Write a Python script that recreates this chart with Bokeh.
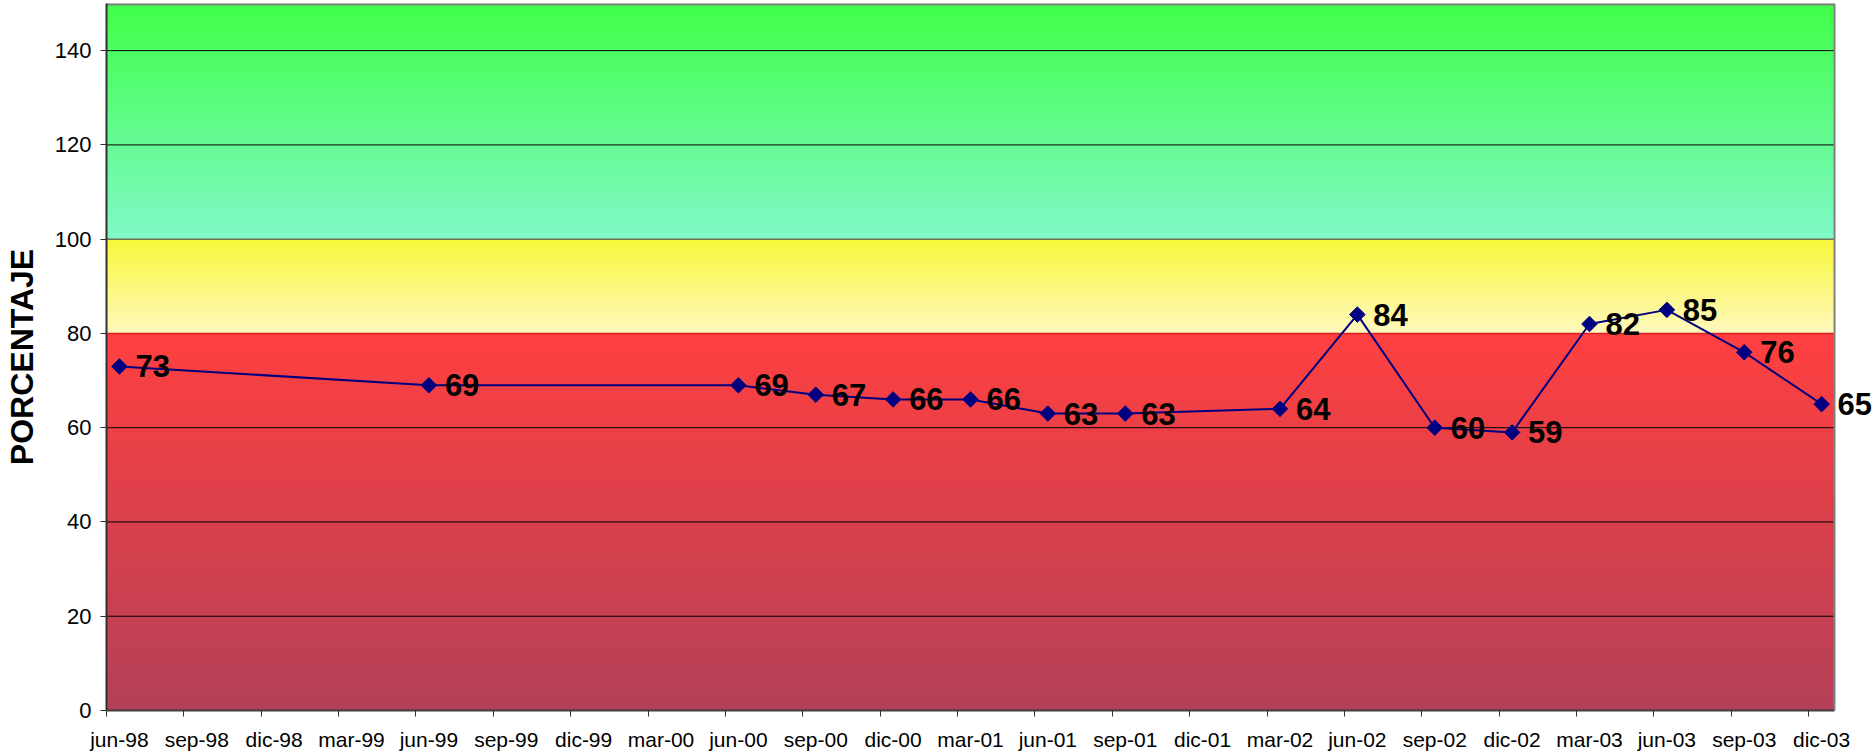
import numpy as np
from bokeh.plotting import figure
from bokeh.models import FixedTicker, LinearAxis, ColumnDataSource, LabelSet, Range1d
from bokeh.embed import file_html
from bokeh.resources import INLINE
from bokeh.core.properties import value

# ---------------- data ----------------
axis_dates = ["jun-98", "sep-98", "dic-98", "mar-99", "jun-99", "sep-99", "dic-99", "mar-00",
              "jun-00", "sep-00", "dic-00", "mar-01", "jun-01", "sep-01", "dic-01", "mar-02",
              "jun-02", "sep-02", "dic-02", "mar-03", "jun-03", "sep-03", "dic-03"]
point_dates = ["jun-98", "jun-99", "jun-00", "sep-00", "dic-00", "mar-01", "jun-01", "sep-01",
               "mar-02", "jun-02", "sep-02", "dic-02", "mar-03", "jun-03", "sep-03", "dic-03"]
porcentaje = [73, 69, 69, 67, 66, 66, 63, 63, 64, 84, 60, 59, 82, 85, 76, 65]
y_ticks = [0, 20, 40, 60, 80, 100, 120, 140]
band_edges = [0, 80, 100, 150]
band_colors_bottom = ["#B44058", "#FFF8BE", "#80F8C8"]
band_colors_top = ["#FF4040", "#F8F83A", "#40FF48"]
band_line_colors = ["black", "#D82020", "#707050", "black"]

month_names = ["ene", "feb", "mar", "abr", "may", "jun", "jul", "ago", "sep", "oct", "nov", "dic"]


def month_number(s):
    m, y = s.split("-")
    yy = int(y)
    year = 1900 + yy if yy > 50 else 2000 + yy
    return year * 12 + month_names.index(m)


base = month_number(axis_dates[0])
axis_pos = [month_number(d) - base for d in axis_dates]
point_pos = [month_number(d) - base for d in point_dates]
x_start = axis_pos[0] - 0.5            # plot area starts half a month before jun-98
x_end = axis_pos[-1] + 0.5             # and ends half a month after dic-03
boundaries = [p - 0.5 for p in axis_pos]

FONT = "Liberation Sans"

# plot area is 1728 px wide; the frame is extended to the right so that the last
# data label ("65") is not clipped, while everything else stops at x_end
PLOT_W = 1728
FRAME_W = 1771
month_px = PLOT_W / (x_end - x_start)
x_view_end = x_start + FRAME_W / month_px

p = figure(x_range=Range1d(x_start, x_view_end), y_range=Range1d(band_edges[0], band_edges[-1]),
           frame_width=FRAME_W, frame_height=707,
           min_border_left=103, min_border_right=0, min_border_top=3, min_border_bottom=38,
           output_backend="svg", toolbar_location=None, x_axis_type=None)
p.background_fill_color = "white"
p.border_fill_color = "white"
p.outline_line_color = None


# ---------------- gradient background ----------------
def hex2rgb(h):
    return np.array([int(h[i:i + 2], 16) for i in (1, 3, 5)], float)


bq_b, bq_t, bq_c = [], [], []
step = 0.5
for lo, hi, c0, c1 in zip(band_edges[:-1], band_edges[1:], band_colors_bottom, band_colors_top):
    n = int(round((hi - lo) / step))
    a0, a1 = hex2rgb(c0), hex2rgb(c1)
    for k in range(n):
        y0 = lo + k * step
        y1 = min(y0 + step * 1.8, hi)
        t = (k + 0.5) / n
        rgb = (1 - t) * a0 + t * a1
        bq_b.append(y0)
        bq_t.append(y1)
        bq_c.append("#%02x%02x%02x" % tuple(int(round(v)) for v in rgb))

bg = ColumnDataSource(dict(bottom=bq_b, top=bq_t, color=bq_c))
p.quad(left=x_start - 1, right=x_end, bottom="bottom", top="top", fill_color="color",
       line_color=None, source=bg, level="image")

# ---------------- grid lines (only inside the plot area) ----------------
p.xgrid.grid_line_color = None
p.ygrid.grid_line_color = None
grid_y = [t for t in y_ticks if t not in band_edges]
grid_col = ["black"] * len(grid_y)
for e, c in zip(band_edges[1:-1], band_line_colors[1:-1]):
    grid_y.append(e)
    grid_col.append(c)
gsrc = ColumnDataSource(dict(y=grid_y, c=grid_col, w=[1 if c == "black" else 1.5 for c in grid_col]))
p.segment(x0=x_start, x1=x_end, y0="y", y1="y", line_color="c", line_width="w",
          source=gsrc, level="underlay")

# plot-area border: grey on top and right
p.segment(x0=x_start, x1=x_end, y0=band_edges[-1], y1=band_edges[-1], line_color="#808080",
          line_width=4, level="underlay")
p.segment(x0=x_end, x1=x_end, y0=band_edges[0], y1=band_edges[-1], line_color="#808080",
          line_width=2, level="underlay")

# ---------------- y axis ----------------
yax = p.yaxis[0]
yax.ticker = FixedTicker(ticks=y_ticks)
yax.axis_label = "PORCENTAJE"
yax.axis_label_text_font = FONT
yax.axis_label_text_font_size = "32px"
yax.axis_label_text_font_style = "bold"
yax.axis_label_text_color = "black"
yax.axis_label_standoff = 12
yax.major_label_text_font = FONT
yax.major_label_text_font_size = "22px"
yax.major_label_text_color = "black"
yax.major_label_standoff = 9
yax.major_tick_in = 0
yax.major_tick_out = 6
yax.major_tick_line_color = "#303030"
yax.minor_tick_line_color = None
yax.axis_line_color = "#303030"
yax.axis_line_width = 2

# ---------------- x axes: ticks at month boundaries, labels at month centers ----------------
xticks_axis = LinearAxis(ticker=FixedTicker(ticks=boundaries, minor_ticks=[]),
                         bounds=(x_start, x_end),
                         major_label_overrides={b: "" for b in boundaries},
                         major_label_text_font_size="0px", major_label_standoff=0,
                         major_tick_in=0, major_tick_out=6, major_tick_line_color="#303030",
                         minor_tick_line_color=None, axis_line_color="#404040", axis_line_width=2)
p.add_layout(xticks_axis, "below")

xlabels_axis = LinearAxis(ticker=FixedTicker(ticks=axis_pos, minor_ticks=[]),
                          major_label_overrides={pos: lab for pos, lab in zip(axis_pos, axis_dates)},
                          major_label_text_font=FONT, major_label_text_font_size="21px",
                          major_label_text_color="black", major_label_standoff=11,
                          major_tick_in=0, major_tick_out=0, major_tick_line_color=None,
                          minor_tick_line_color=None, axis_line_color=None)
p.add_layout(xlabels_axis, "below")

# ---------------- series ----------------
src = ColumnDataSource(dict(x=point_pos, y=porcentaje, label=[str(v) for v in porcentaje]))
p.line("x", "y", source=src, line_color="#000080", line_width=2)
p.scatter("x", "y", source=src, marker="square", size=11, angle=np.pi / 4,
          fill_color="#000080", line_color="#000080")
labels = LabelSet(x="x", y="y", text="label", source=src, x_offset=16, y_offset=0,
                  text_align="left", text_baseline="middle", text_font=value(FONT),
                  text_font_size="31px", text_font_style="bold", text_color="black")
p.add_layout(labels)

open("out.html", "w").write(file_html(p, INLINE))
